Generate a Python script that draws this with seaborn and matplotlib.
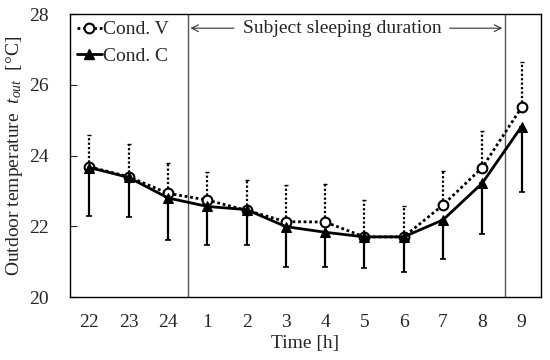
import matplotlib
matplotlib.use("Agg")
import matplotlib.pyplot as plt
import seaborn as sns
import numpy as np
import pandas as pd

hours = ["22", "23", "24", "1", "2", "3", "4", "5", "6", "7", "8", "9"]
cond_v = [23.68, 23.40, 22.93, 22.74, 22.45, 22.13, 22.12, 21.70, 21.70, 22.60, 23.66, 25.36]
cond_v_upper = [24.58, 24.33, 23.79, 23.52, 23.32, 23.17, 23.20, 22.75, 22.56, 23.55, 24.68, 26.65]
cond_c = [23.66, 23.38, 22.80, 22.56, 22.47, 21.99, 21.83, 21.70, 21.70, 22.18, 23.22, 24.82]
cond_c_lower = [22.30, 22.25, 21.60, 21.46, 21.46, 20.84, 20.85, 20.82, 20.72, 21.08, 21.78, 22.96]

sns.set_theme(style="white")
plt.rcParams['font.family'] = ['Liberation Serif', 'DejaVu Serif']
plt.rcParams['mathtext.fontset'] = 'custom'
plt.rcParams['mathtext.it'] = 'Liberation Serif:italic'
plt.rcParams['mathtext.rm'] = 'Liberation Serif'

x = np.arange(len(hours))
df = pd.DataFrame({
    "x": np.concatenate([x, x]),
    "temp": cond_v + cond_c,
    "cond": ["Cond. V"] * len(x) + ["Cond. C"] * len(x),
})

FS = 14
fig = plt.figure(figsize=(5.5, 3.6), dpi=100)
ax = fig.add_axes([0.127, 0.175, 0.857, 0.786])

# error bars
v = np.array(cond_v); vu = np.array(cond_v_upper)
c = np.array(cond_c); cl = np.array(cond_c_lower)
eb1 = ax.errorbar(x, v, yerr=[np.zeros_like(v), vu - v], fmt='none', ecolor='black',
                  elinewidth=1.6, capsize=1.5, capthick=1.0, zorder=2)
eb1[2][0].set_linestyle((0, (1, 1)))
ax.errorbar(x, c, yerr=[c - cl, np.zeros_like(c)], fmt='none', ecolor='black',
            elinewidth=1.6, capsize=2, capthick=1.2, zorder=2)

sns.lineplot(data=df, x="x", y="temp", hue="cond", style="cond",
             hue_order=["Cond. V", "Cond. C"], style_order=["Cond. V", "Cond. C"],
             palette=["black", "black"], dashes=[(1, 1), ""], markers=["o", "^"],
             linewidth=2, markersize=7, ax=ax, legend=False, zorder=3)
for ln in ax.get_lines():
    if ln.get_marker() == 'o':
        ln.set_markerfacecolor('white')
        ln.set_markeredgecolor('black')
        ln.set_markeredgewidth(1.5)
    elif ln.get_marker() == '^':
        ln.set_markerfacecolor('black')
        ln.set_markeredgecolor('black')
        ln.set_markersize(7.5)

from matplotlib.lines import Line2D
handles = [Line2D([], [], color='black', lw=2, ls=(0, (1, 1)), marker='o', markersize=7,
                  markerfacecolor='white', markeredgewidth=1.5),
           Line2D([], [], color='black', lw=2, ls='-', marker='^', markersize=7.5)]
ax.legend(handles, ["Cond. V", "Cond. C"], loc='upper left', frameon=False, fontsize=FS,
          handlelength=1.3, handletextpad=0.05, borderaxespad=0.15, labelspacing=0.45,
          borderpad=0.2, bbox_to_anchor=(0.0, 1.0))

# sleeping period lines
ax.axvline(2.5, color='#555555', lw=1.0)
ax.axvline(10.58, color='#555555', lw=1.0)
ax.text(6.43, 27.6, "Subject sleeping duration", ha='center', va='center', fontsize=FS)
ax.annotate("", xy=(2.5, 27.6), xytext=(3.75, 27.6),
            arrowprops=dict(arrowstyle='->', color='#333333', lw=0.8))
ax.annotate("", xy=(10.58, 27.6), xytext=(9.1, 27.6),
            arrowprops=dict(arrowstyle='->', color='#333333', lw=0.8))

ax.set_xlim(-0.5, 11.5)
ax.set_ylim(20, 28)
ax.set_xticks(x)
ax.set_xticklabels(hours)
ax.set_yticks([20, 22, 24, 26, 28])
ax.tick_params(axis='x', length=0, labelsize=FS, pad=12)
ax.tick_params(axis='y', length=5, width=0.8, direction='in', left=True, labelsize=FS, pad=15)
ax.set_xlabel("Time [h]", fontsize=FS, labelpad=3)
ax.set_ylabel(r"Outdoor temperature  $t_{out}$  [°C]", fontsize=14, labelpad=3)
for s in ax.spines.values():
    s.set_color('black')
    s.set_linewidth(1.0)

fig.savefig("out.png", dpi=100)
